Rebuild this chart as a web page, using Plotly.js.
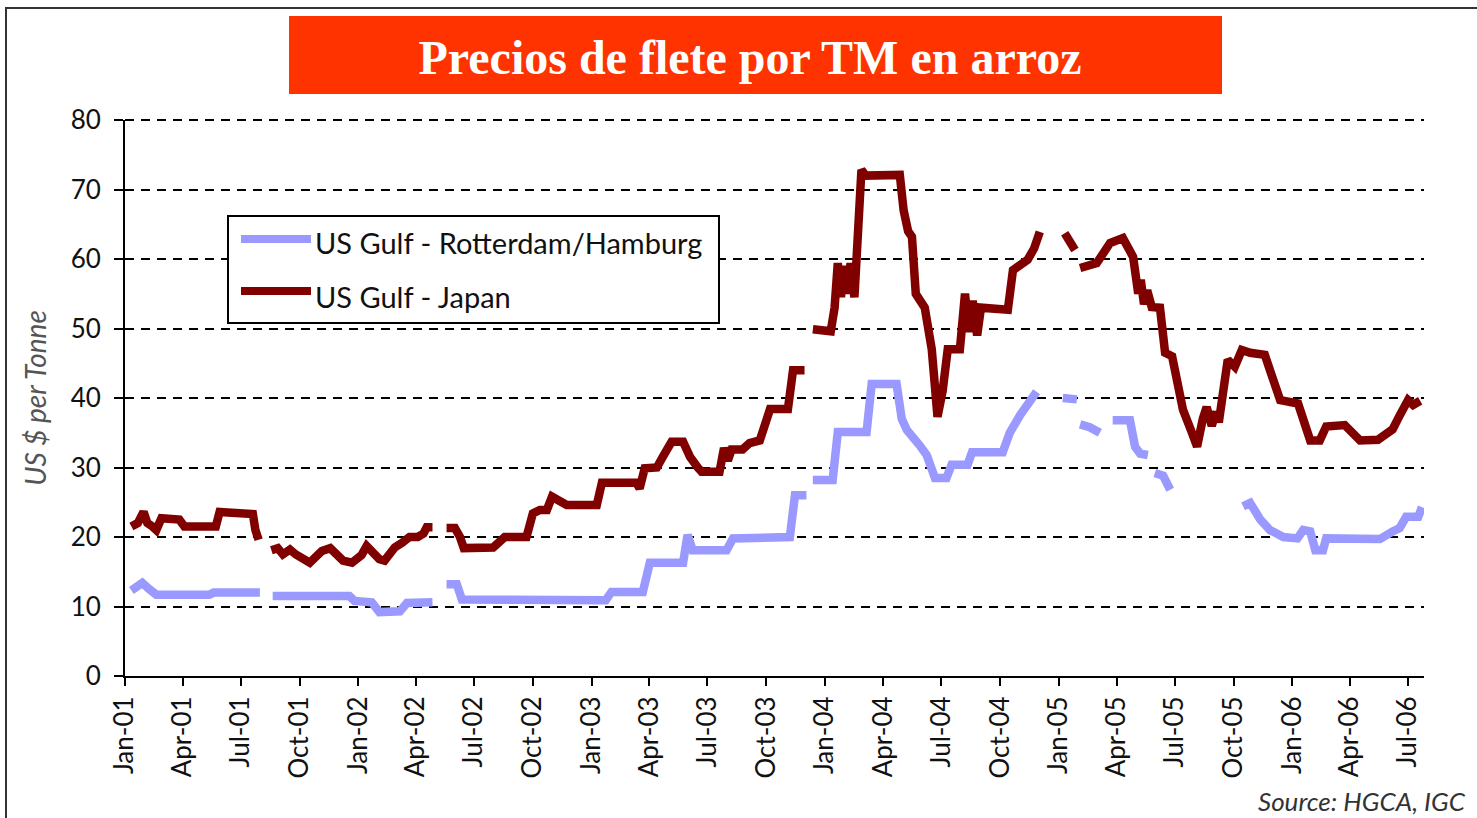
<!DOCTYPE html>
<html>
<head>
<meta charset="utf-8">
<script src="https://cdn.plot.ly/plotly-3.0.1.min.js"></script>
<style>
  html, body { margin: 0; padding: 0; background: #fff; }
  #chart { width: 1477px; height: 818px; }
</style>
</head>
<body>
<div id="chart"></div>
<script>
// ---- Data ----
const chartTitle = 'Precios de flete por TM en arroz';
const yTitle = 'US $ per Tonne';
const sourceText = 'Source: HGCA, IGC';
const seriesNames = ['US Gulf - Rotterdam/Hamburg', 'US Gulf - Japan'];
const yMax = 80;

const rhDates = [
'2001-01-11','2001-01-21','2001-01-28','2001-02-08','2001-02-19','2001-05-13','2001-05-20','2001-07-31',
'2001-08-08',
'2001-08-20','2001-12-18','2001-12-26','2002-01-22','2002-02-03','2002-03-07','2002-03-18','2002-04-27',
'2002-05-06',
'2002-05-19','2002-06-04','2002-06-12','2003-01-23','2003-02-01','2003-03-22','2003-04-02','2003-05-24','2003-05-31','2003-06-08','2003-07-31','2003-08-10','2003-11-07','2003-11-15','2003-12-03',
'2003-12-08',
'2003-12-13','2004-01-13','2004-01-21','2004-03-06','2004-03-14','2004-04-22','2004-04-30','2004-05-08','2004-05-28','2004-06-08','2004-06-21','2004-07-09','2004-07-17','2004-08-11','2004-08-18','2004-10-05','2004-10-16','2004-11-01','2004-11-27',
'2004-12-15',
'2005-01-07','2005-01-29',
'2005-02-01',
'2005-02-03','2005-02-18','2005-03-06',
'2005-03-10',
'2005-03-26','2005-04-22','2005-04-30','2005-05-08','2005-05-20',
'2005-05-23',
'2005-05-31','2005-06-13','2005-06-24',
'2005-07-01',
'2005-10-16','2005-10-27','2005-11-12','2005-11-27','2005-12-18','2006-01-09','2006-01-18','2006-01-29','2006-02-06','2006-02-18','2006-02-23','2006-05-18','2006-06-07','2006-06-18','2006-06-28','2006-07-17','2006-07-23'
];
const rhValues = [
12.3,13.0,13.4,12.5,11.7,11.7,12.0,12.0,
null,
11.5,11.5,10.8,10.6,9.2,9.3,10.5,10.6,
null,
13.2,13.2,11.0,10.9,12.1,12.1,16.3,16.3,20.3,18.1,18.1,19.8,20.0,26.0,26.0,
null,
28.2,28.2,35.1,35.1,42.0,42.0,37.0,35.4,33.2,31.8,28.5,28.5,30.4,30.4,32.2,32.2,35.0,37.5,40.9,
null,
40.0,39.8,
null,
36.2,35.8,35.0,
null,
36.8,36.8,33.0,32.0,31.8,
null,
29.2,28.8,26.8,
null,
24.4,24.9,22.5,21.0,20.0,19.8,21.0,20.8,18.1,18.1,19.8,19.7,20.8,21.3,22.9,22.9,24.3
];

const jpDates = [
'2001-01-11','2001-01-21','2001-01-30','2001-02-05','2001-02-13','2001-02-19','2001-02-27','2001-03-27','2001-04-04','2001-05-23','2001-05-29','2001-06-07','2001-06-14','2001-07-20','2001-07-24','2001-07-29',
'2001-08-08',
'2001-08-18','2001-08-28','2001-09-05','2001-09-16','2001-09-25','2001-10-05','2001-10-17','2001-10-27','2001-11-05','2001-11-18','2001-11-27','2001-12-08','2001-12-22','2002-01-06','2002-01-14','2002-01-25','2002-02-03','2002-02-11','2002-02-19','2002-02-27','2002-03-11','2002-03-22','2002-04-04','2002-04-13','2002-04-18','2002-04-27',
'2002-05-06',
'2002-05-19','2002-06-01','2002-06-09','2002-06-15','2002-07-31','2002-08-18','2002-09-21','2002-10-01','2002-10-12','2002-10-23','2002-10-31','2002-11-12','2002-11-23','2003-01-09','2003-01-17','2003-03-12','2003-03-17','2003-03-25','2003-04-13','2003-04-22','2003-05-06','2003-05-24','2003-06-04','2003-06-16','2003-06-22','2003-07-20','2003-07-27','2003-08-02','2003-08-08','2003-08-25','2003-09-05','2003-09-21','2003-09-29','2003-10-07','2003-11-04','2003-11-12','2003-11-30',
'2003-12-08',
'2003-12-13','2003-12-31','2004-01-10','2004-01-16','2004-01-21','2004-01-26','2004-01-30','2004-02-04','2004-02-10','2004-02-16','2004-02-23','2004-02-27','2004-03-05','2004-04-27','2004-05-03','2004-05-10','2004-05-16','2004-05-22','2004-06-05','2004-06-16','2004-06-25','2004-07-03','2004-07-11','2004-07-30','2004-08-07','2004-08-13','2004-08-19','2004-08-26','2004-09-01','2004-10-13','2004-10-21','2004-11-13','2004-11-23','2004-12-02',
'2004-12-15',
'2005-01-10','2005-01-26',
'2005-01-30',
'2005-02-03','2005-03-01','2005-03-22','2005-04-11','2005-04-27','2005-05-05','2005-05-09','2005-05-14','2005-05-19','2005-05-26','2005-06-08','2005-06-16','2005-06-27','2005-07-06','2005-07-14','2005-07-28','2005-08-05','2005-08-14','2005-08-20','2005-08-28','2005-09-04','2005-09-08','2005-09-16','2005-09-22','2005-10-03','2005-10-14','2005-10-27','2005-11-19','2005-11-27','2005-12-13','2006-01-10','2006-01-21','2006-01-29','2006-02-13','2006-02-23','2006-03-24','2006-04-04','2006-04-17','2006-05-15','2006-05-29','2006-06-07','2006-06-18','2006-07-01','2006-07-09','2006-07-20'
];
const jpValues = [
21.5,22.0,23.6,22.0,21.5,21.0,22.7,22.5,21.5,21.5,23.6,23.6,23.3,23.3,21.0,19.6,
null,
18.1,18.4,17.5,18.2,17.5,16.8,16.3,17.2,18.0,18.4,17.6,16.6,16.3,17.4,18.7,17.8,16.8,16.6,17.5,18.5,19.2,20.0,20.0,20.5,21.4,21.4,
null,
21.3,21.3,20.0,18.4,18.5,20.0,20.0,23.4,23.9,23.9,25.8,25.0,24.6,24.6,27.8,27.8,27.0,29.9,30.0,31.5,33.7,33.7,31.5,30.0,29.4,29.4,32.8,31.0,32.6,32.6,33.5,33.9,36.0,38.4,38.4,44.0,44.0,
null,
49.9,49.8,49.6,53.0,59.4,54.5,59.0,55.0,59.4,54.5,68.5,72.8,72.0,72.1,67.0,64.0,63.2,55.0,53.0,47.0,37.3,41.0,47.0,47.0,55.0,49.5,54.0,49.0,53.0,52.7,58.4,59.9,61.5,63.9,
null,
63.7,61.3,
null,
58.7,59.4,62.3,63.0,60.3,55.0,57.0,53.5,55.5,53.1,53.0,46.5,46.0,42.0,38.3,35.0,33.0,37.0,38.7,36.0,38.0,36.5,43.0,45.5,44.5,46.9,46.5,46.2,44.0,39.7,39.2,35.5,33.9,33.9,35.9,36.1,35.0,33.9,34.0,35.1,35.5,37.5,39.7,39.0,39.6
];

const colors = ['#9999FF', '#800000'];
const FONT = 'Lato, "Open Sans", sans-serif';

// ---- Plot ----
const W = 1477, H = 818;
const M = {l: 125, r: 53, t: 120, b: 142};
const PW = W - M.l - M.r, PH = H - M.t - M.b;
// helpers converting page pixels to paper coordinates (for decorations only)
const px = v => (v - M.l) / PW;
const py = v => (H - M.b - v) / PH;

const traces = [
  {x: rhDates, y: rhValues, name: seriesNames[0], type: 'scatter', mode: 'lines',
   line: {color: colors[0], width: 8.5}, connectgaps: false, hoverinfo: 'x+y'},
  {x: jpDates, y: jpValues, name: seriesNames[1], type: 'scatter', mode: 'lines',
   line: {color: colors[1], width: 8.5}, connectgaps: false, hoverinfo: 'x+y'}
];

const layout = {
  width: W, height: H,
  margin: M,
  paper_bgcolor: '#fff', plot_bgcolor: '#fff',
  showlegend: false,
  title: {
    text: chartTitle,
    font: {family: '"Liberation Serif", "Times New Roman", serif', size: 48, color: '#ffffff', weight: 'bold'},
    xref: 'paper', x: px(750), xanchor: 'center',
    yref: 'container', y: 1 - 57 / H, yanchor: 'middle'
  },
  xaxis: {
    type: 'date',
    range: ['2001-01-01', '2006-07-26'],
    tick0: '2001-01-01', dtick: 'M3', tickformat: '%b-%y',
    tickangle: -90,
    ticks: 'outside', ticklen: 8, tickwidth: 2, tickcolor: '#000',
    showline: true, linecolor: '#000', linewidth: 2,
    showgrid: false, zeroline: false,
    tickfont: {family: FONT, size: 26, color: '#111'},
    fixedrange: true
  },
  yaxis: {
    range: [0, yMax], dtick: 10, tick0: 0,
    ticks: 'outside', ticklen: 9, tickwidth: 2, tickcolor: '#000',
    showline: true, linecolor: '#000', linewidth: 2,
    showgrid: true, gridcolor: '#000', gridwidth: 2, griddash: '9px,7px',
    zeroline: false,
    ticklabelstandoff: 8,
    tickfont: {family: FONT, size: 26, color: '#111'},
    title: {text: yTitle, standoff: 16,
      font: {family: FONT, size: 28, color: '#555', style: 'italic'}},
    fixedrange: true
  },
  shapes: [
    // outer frame
    {type: 'rect', xref: 'paper', yref: 'paper', x0: px(6), x1: px(1500), y0: py(840), y1: py(8),
     line: {color: '#333', width: 2}, fillcolor: 'rgba(0,0,0,0)', layer: 'below'},
    // title box
    {type: 'rect', xref: 'paper', yref: 'paper', x0: px(289), x1: px(1222), y0: py(94), y1: py(16),
     line: {width: 0}, fillcolor: '#FF3300', layer: 'below'},
    // top gridline (at the edge of the plot area)
    {type: 'line', xref: 'paper', yref: 'paper', x0: 0, x1: 1, y0: 1, y1: 1,
     line: {color: '#000', width: 2, dash: '9px,7px'}, layer: 'above'},
    // legend box
    {type: 'rect', xref: 'paper', yref: 'paper', x0: px(228), x1: px(719), y0: py(323), y1: py(216),
     line: {color: '#000', width: 2}, fillcolor: '#fff', layer: 'above'},
    // legend samples
    {type: 'line', xref: 'paper', yref: 'paper', x0: px(241), x1: px(311), y0: py(239), y1: py(239),
     line: {color: colors[0], width: 8}, layer: 'above'},
    {type: 'line', xref: 'paper', yref: 'paper', x0: px(241), x1: px(311), y0: py(291), y1: py(291),
     line: {color: colors[1], width: 8}, layer: 'above'}
  ],
  annotations: [
    {text: seriesNames[0], xref: 'paper', yref: 'paper', x: px(313), y: py(243), xanchor: 'left', yanchor: 'middle',
     showarrow: false, font: {family: FONT, size: 29, color: '#111'}},
    {text: seriesNames[1], xref: 'paper', yref: 'paper', x: px(313), y: py(296), xanchor: 'left', yanchor: 'middle',
     showarrow: false, font: {family: FONT, size: 29, color: '#111'}},
    {text: sourceText, xref: 'paper', yref: 'paper', x: px(1256), y: py(801), xanchor: 'left', yanchor: 'middle',
     showarrow: false, font: {family: FONT, size: 26, color: '#333', style: 'italic'}}
  ]
};

Plotly.newPlot('chart', traces, layout, {displayModeBar: false, responsive: false});
</script>
</body>
</html>
